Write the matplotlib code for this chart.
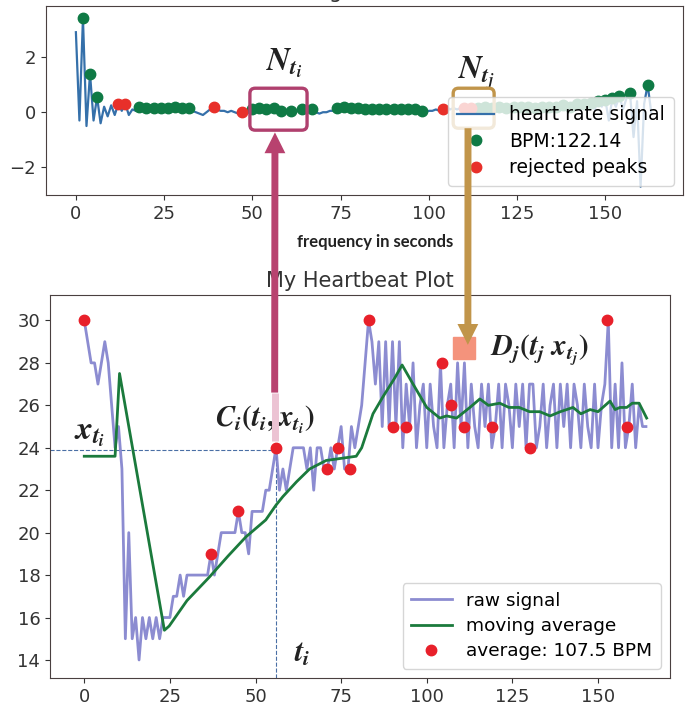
import matplotlib
matplotlib.use("Agg")
import matplotlib.pyplot as plt
import numpy as np
from matplotlib.patches import ConnectionPatch, FancyBboxPatch, ArrowStyle

plt.rcParams['font.family'] = 'DejaVu Sans'
plt.rcParams['mathtext.fontset'] = 'custom'
plt.rcParams['mathtext.it'] = 'STIXGeneral:italic:bold'
plt.rcParams['mathtext.rm'] = 'STIXGeneral:bold'
plt.rcParams['mathtext.bf'] = 'STIXGeneral:bold'

# ---- top panel: filtered heart rate signal with detected peaks ----
hr_signal = [2.9, -0.3, 3.4, -0.5, 1.4, -0.3, 0.55, -0.4, 0.2, -0.15, 0.25, -0.1, 0.3, 0.05, 0.3, -0.1,
             0.1, 0.05, 0.2, 0.1, 0.15, 0.05, 0.15, 0.1, 0.15, 0.0, 0.15, 0.05, 0.2, 0.1, 0.15, 0.05,
             0.15, 0.05, 0.0, -0.05, -0.1, 0.0, 0.1, 0.2, 0.1, 0.05, 0.05, 0.0, 0.05, 0.0, -0.05, 0.0,
             0.05, 0.0, 0.1, 0.05, 0.15, 0.05, 0.1, 0.05, 0.15, 0.05, 0.05, -0.05, 0.0, 0.05, 0.0, 0.05,
             0.1, 0.05, 0.05, 0.1, 0.0, -0.05, 0.0, 0.0, 0.05, 0.05, 0.15, 0.1, 0.2, 0.1, 0.15, 0.05,
             0.15, 0.05, 0.1, 0.05, 0.1, 0.05, 0.1, 0.05, 0.1, 0.05, 0.1, 0.05, 0.1, 0.05, 0.1, 0.05,
             0.1, 0.05, 0.05, 0.0, 0.05, 0.05, 0.1, 0.05, 0.1, 0.2, 0.1, 0.15, 0.1, 0.15, 0.15, 0.1,
             0.15, 0.1, 0.15, 0.1, 0.2, 0.1, 0.15, 0.1, 0.2, 0.1, 0.15, 0.1, 0.2, 0.1, 0.2, 0.1,
             0.2, 0.1, 0.15, 0.1, 0.2, 0.1, 0.2, 0.1, 0.2, 0.1, 0.25, 0.1, 0.2, 0.15, 0.3, 0.1,
             0.3, 0.15, 0.35, 0.1, 0.4, 0.2, 0.45, -0.3, 0.5, 0.2, 0.6, 0.1, 0.5, 0.7, -0.9, 0.4,
             -2.7, 0.3, 1.0, 0.0]
hr_t = np.arange(len(hr_signal))
accepted_idx = [2, 4, 6, 18, 20, 22, 24, 26, 28, 30, 32, 50, 52, 54, 56, 58, 61, 64, 67,
                74, 76, 78, 80, 82, 84, 86, 88, 90, 92, 94, 96, 98,
                114, 116, 118, 120, 122, 124, 126, 128, 130, 132, 134, 136, 138, 140,
                142, 144, 146, 148, 150, 152, 154, 157, 162]
rejected_idx = [12, 14, 39, 47, 104, 110, 112]

# ---- bottom panel: raw signal, moving average and peaks ----
raw = [30, 29, 28, 28, 27, 28, 29, 28, 26, 24, 25, 23, 15, 20, 15, 16, 14, 16, 15, 16,
       15, 16, 15, 16, 16, 16, 17, 17, 18, 17, 18, 18, 18, 18, 18, 18, 18, 19, 18, 19,
       20, 20, 20, 20, 20, 21, 20, 20, 19, 21, 21, 21, 21, 22, 22, 23, 24, 22, 23, 22,
       23, 24, 24, 24, 24, 23, 24, 22, 24, 24, 23, 23, 24, 23, 24, 25, 23, 23, 25, 24,
       25, 26, 28, 30, 29, 27, 29, 25, 29, 25, 29, 25, 29, 24, 27, 25, 28, 24, 26, 27,
       24, 27, 25, 24, 28, 24, 26, 27, 24, 28, 25, 28, 24, 27, 25, 24, 27, 25, 27, 24,
       25, 27, 24, 27, 26, 24, 27, 25, 27, 24, 27, 27, 24, 25, 27, 24, 26, 27, 24, 27,
       25, 27, 24, 27, 26, 24, 27, 25, 24, 27, 24, 26, 27, 30, 24, 27, 24, 28, 24, 25,
       27, 24, 26, 25, 25]
raw_t = np.arange(len(raw))
ma_t = [0, 9, 10.3, 23.4, 24.8, 30, 36.5, 42, 47.2, 53, 56, 58, 62, 65.8, 70.6, 75, 79.4, 81, 84.3,
        87.2, 90.7, 92.8, 96, 100, 103.8, 105.8, 108.7, 112.6, 115.5, 118, 121.3, 124, 127, 130,
        133, 136, 139, 142.7, 145, 147.7, 150, 153.5, 155, 156.4, 158.4, 160, 162, 164.2]
ma_v = [23.6, 23.6, 27.5, 15.4, 15.6, 16.8, 17.9, 18.9, 19.8, 20.6, 21.3, 21.7, 22.4, 23.0, 23.4,
        23.5, 23.6, 24.0, 25.6, 26.4, 27.3, 27.9, 27.0, 25.9, 25.4, 25.5, 25.4, 25.9, 26.3, 26.0,
        26.1, 25.9, 25.9, 25.7, 25.7, 25.5, 25.7, 25.9, 25.6, 25.8, 25.7, 26.2, 25.8, 25.9, 25.9,
        26.1, 26.1, 25.4]
peak_t = [0, 37, 45, 56, 71, 74, 77.5, 83, 90, 94, 104.5, 107, 111, 119, 130, 152.5, 158.5]
peak_v = [30, 19, 21, 24, 23, 24, 23, 30, 25, 25, 28, 26, 25, 25, 24, 30, 25]

fig = plt.figure(figsize=(6.85, 7.05), dpi=100)
ax1 = fig.add_axes([0.067, 0.7234, 0.930, 0.2681])
ax2 = fig.add_axes([0.073, 0.0383, 0.905, 0.5433])

hr = np.array(hr_signal)
ax1.plot(hr_t, hr, color='#3570aa', lw=1.6, label='heart rate signal', zorder=2)
ax1.plot(hr_t[accepted_idx], hr[accepted_idx], 'o', color='#0f7a45', ms=7.5,
         label='BPM:122.14', zorder=3)
ax1.plot(hr_t[rejected_idx], hr[rejected_idx], 'o', color='#e8302a', ms=7.5,
         label='rejected peaks', zorder=3)
ax1.set_xlim(-8.5, 172)
ax1.set_ylim(-3.0, 3.85)
ax1.set_xticks([0, 25, 50, 75, 100, 125, 150])
ax1.set_yticks([-2, 0, 2])
ax1.set_title('Heart Rate Signal Peak Detection', fontsize=15, color='#333333')
ax1.legend(loc='lower right', fontsize=13.5, handletextpad=0.8, borderpad=0.45,
           labelspacing=0.4)

ax2.plot(raw_t, raw, color='#8080cc', lw=2, alpha=0.9, label='raw signal')
ax2.plot(ma_t, ma_v, color='#1b7a3c', lw=2, label='moving average')
ax2.plot(peak_t, peak_v, 'o', color='#e8202a', ms=7.5, label='average: 107.5 BPM')
ax2.set_xlim(-10, 171)
ax2.set_ylim(13.15, 31.2)
ax2.set_xticks([0, 25, 50, 75, 100, 125, 150])
ax2.set_yticks([14, 16, 18, 20, 22, 24, 26, 28, 30])
ax2.set_title('My Heartbeat Plot', fontsize=15, color='#333333')
ax2.legend(loc='lower right', fontsize=13.3, handlelength=2.2, borderpad=0.45,
           labelspacing=0.4)

for ax in (ax1, ax2):
    ax.tick_params(labelsize=13, colors='#333333')
    for s in ax.spines.values():
        s.set_color('#4a4040')

fig.text(375 / 685, 1 - 242 / 705, 'frequency in seconds', fontsize=12,
         fontweight='bold', family='Lato', ha='center', va='center', color='#222222')

# guide lines to the selected point
ax2.plot([-10, 56], [23.9, 23.9], ls='--', lw=0.8, color='#4a6fa5', zorder=1)
ax2.plot([56, 56], [13.15, 24], ls='--', lw=0.8, color='#4a6fa5', zorder=1)
ax2.plot([55.6, 55.6], [24.3, 26.6], color='#ecc3d3', lw=5, solid_capstyle='butt', zorder=4)
ax2.plot(111, 28.7, 's', ms=16, color='#f4937c', zorder=4)

# window boxes in the top panel
ax1.add_patch(FancyBboxPatch((49.3, -0.65), 16.2, 1.52, boxstyle='round,pad=0,rounding_size=1.5',
                             mutation_aspect=0.128, fill=False, ec='#b0406e', lw=2.4, zorder=5))
ax1.add_patch(FancyBboxPatch((106.9, -0.58), 11.6, 1.45, boxstyle='round,pad=0,rounding_size=1.5',
                             mutation_aspect=0.128, fill=False, ec='#c1954a', lw=2.4, zorder=5))

arrow = ArrowStyle.Simple(head_length=0.75, head_width=0.75, tail_width=0.25)
fig.add_artist(ConnectionPatch((55.6, 26.6), (56.4, -0.73), coordsA=ax2.transData,
                               coordsB=ax1.transData, arrowstyle=arrow, mutation_scale=20,
                               fc='#b8426f', ec='none', lw=0))
fig.add_artist(ConnectionPatch((111.1, -0.58), (112.0, 28.85), coordsA=ax1.transData,
                               coordsB=ax2.transData, arrowstyle=arrow, mutation_scale=20,
                               fc='#c1954a', ec='none', lw=0))

ax1.text(58.9, 1.78, r'$N_{t_i}$', fontsize=23, ha='center', va='center', color='#222222')
ax1.text(113.4, 1.38, r'$N_{t_j}$', fontsize=23, ha='center', va='center', color='#222222')
ax2.text(52.9, 25.3, r'$C_i(t_i, x_{t_i})$', fontsize=21, ha='center', va='center', color='#222222')
ax2.text(1.5, 24.7, r'$x_{t_i}$', fontsize=24, ha='center', va='center', color='#222222')
ax2.text(133, 28.6, r'$D_j(t_j\ x_{t_j})$', fontsize=21, ha='center', va='center', color='#222222')
ax2.text(63.5, 14.3, r'$t_i$', fontsize=22, ha='center', va='center', color='#222222')

fig.savefig('out.png', dpi=100)
